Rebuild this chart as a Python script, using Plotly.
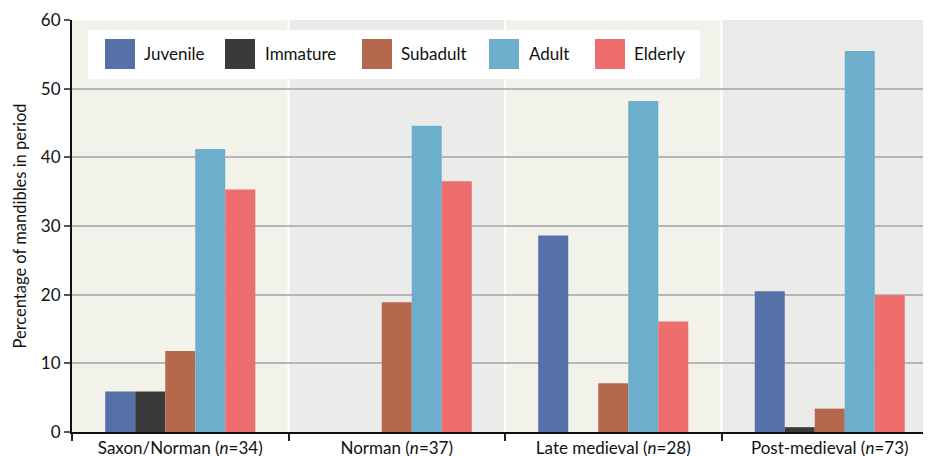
import plotly.graph_objects as go

# ---- data ----
periods = ["Saxon/Norman (<i>n</i>=34)", "Norman (<i>n</i>=37)",
           "Late medieval (<i>n</i>=28)", "Post-medieval (<i>n</i>=73)"]
series_names = ["Juvenile", "Immature", "Subadult", "Adult", "Elderly"]
juvenile = [5.9, 0, 28.6, 20.5]
immature = [5.9, 0, 0, 0.7]
subadult = [11.8, 18.9, 7.1, 3.4]
adult = [41.2, 44.6, 48.2, 55.5]
elderly = [35.3, 36.5, 16.1, 19.9]
y_ticks = [0, 10, 20, 30, 40, 50, 60]

values = [juvenile, immature, subadult, adult, elderly]
colors = ["#5670a8", "#3a3a3a", "#b5694c", "#6eaecd", "#ee6d6d"]

FONT = "Lato, 'Gill Sans', 'Noto Sans', sans-serif"
OFF = 8  # default page body margin
W, H = 931 - OFF, 456 - OFF
ML, MT, MB = 72 - OFF, 20 - OFF, 24
plot_w = W - ML
plot_h = H - MT - MB
cat_px = 216.5

fig = go.Figure()
for name, vals, col in zip(series_names, values, colors):
    fig.add_trace(go.Bar(x=periods, y=vals, name=name, marker=dict(color=col, line=dict(width=0)),
                         showlegend=False))

shapes = []
bg = ["#f2f1ea", "#ebece9"]
for i in range(len(periods)):
    shapes.append(dict(type="rect", xref="x", yref="paper", x0=i - 0.5, x1=i + 0.5, y0=0, y1=1,
                       fillcolor=bg[i % 2], line=dict(width=0), layer="below"))
for i in range(1, len(periods)):
    shapes.append(dict(type="line", xref="x", yref="paper", x0=i - 0.5, x1=i - 0.5, y0=0, y1=1,
                       line=dict(color="white", width=2), layer="below"))

# custom legend (positions given in screen pixels)
def px_x(p):
    return (p - OFF - ML) / plot_w

def px_y(p):
    return (H - MB - (p - OFF)) / plot_h

shapes.append(dict(type="rect", xref="paper", yref="paper", x0=px_x(88), x1=px_x(700),
                   y0=px_y(79), y1=px_y(30), fillcolor="white", line=dict(width=0), layer="above"))
sw_x = [105, 225, 362, 489, 595]
tx_x = [142, 263, 399, 527, 632]
annotations = []
for name, col, sx, tx in zip(series_names, colors, sw_x, tx_x):
    shapes.append(dict(type="rect", xref="paper", yref="paper", x0=px_x(sx), x1=px_x(sx + 30),
                       y0=px_y(69), y1=px_y(39), fillcolor=col, line=dict(width=0), layer="above"))
    annotations.append(dict(xref="paper", yref="paper", x=px_x(tx), y=px_y(54), text=name,
                            showarrow=False, xanchor="left", yanchor="middle",
                            font=dict(family=FONT, size=17, color="#111")))

range_end = -0.5 + plot_w / cat_px

fig.update_layout(
    width=W, height=H,
    margin=dict(l=ML, r=0, t=MT, b=MB, pad=0, autoexpand=False),
    paper_bgcolor="white", plot_bgcolor="#f2f1ea",
    barmode="group", bargap=0.307, bargroupgap=0,
    shapes=shapes, annotations=annotations,
    font=dict(family=FONT, color="#111"),
    xaxis=dict(range=[-0.5, range_end], tickson="boundaries", ticks="outside", ticklen=7,
               tickwidth=1.5, tickcolor="#222", showline=True, linecolor="#111", linewidth=2,
               showgrid=False, automargin=False,
               tickfont=dict(family=FONT, size=17, color="#111"), fixedrange=True),
    yaxis=dict(range=[0, 60], tickvals=y_ticks, ticks="outside", ticklen=6, tickwidth=1.5,
               tickcolor="#555", showline=True, linecolor="#111", linewidth=2,
               showgrid=True, gridcolor="#b6b6b6", gridwidth=1.5, zeroline=False,
               automargin=False,
               tickfont=dict(family=FONT, size=17, color="#111"),
               title=dict(text="Percentage of mandibles in period", standoff=10,
                          font=dict(family=FONT, size=16.5, color="#111"))),
)

fig.write_html("out.html")
